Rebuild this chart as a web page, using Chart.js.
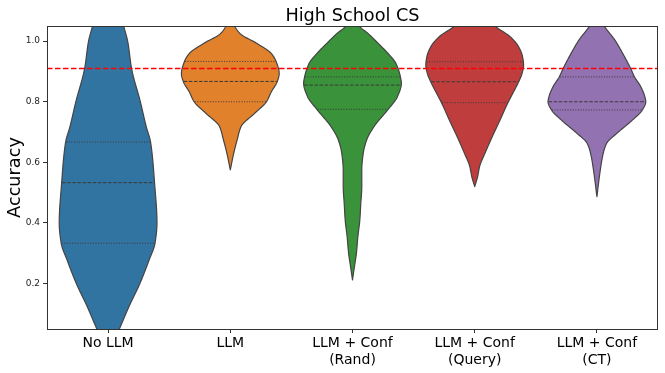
<!DOCTYPE html>
<html>
<head>
<meta charset="utf-8">
<script src="https://cdn.jsdelivr.net/npm/chart.js@4.4.1/dist/chart.umd.min.js"></script>
<style>
  html, body { margin: 0; padding: 0; background: #fff; }
  #chart { display: block; }
</style>
</head>
<body>
<canvas id="chart" width="665" height="373"></canvas>
<script>
// categories and tick labels
const categories = [['No LLM'], ['LLM'], ['LLM + Conf', '(Rand)'], ['LLM + Conf', '(Query)'], ['LLM + Conf', '(CT)']];
const yTicks = [0.2, 0.4, 0.6, 0.8, 1.0];
const threshold = 0.91;

// violin outlines: accuracy values (top to bottom) and relative half-widths
const noLlmY = [1.15, 1.10, 1.05, 1.0, 0.91, 0.80, 0.718, 0.666, 0.533, 0.40, 0.333, 0.278, 0.20, 0.125, 0.05, -0.03];
const noLlmW = [0.20, 0.26, 0.32, 0.40, 0.48, 0.66, 0.78, 0.87, 0.95, 1.0, 0.96, 0.84, 0.65, 0.43, 0.23, 0.0];
const llmY = [1.08, 1.05, 1.025, 0.992, 0.959, 0.932, 0.893, 0.866, 0.833, 0.80, 0.762, 0.718, 0.674, 0.63, 0.575];
const llmW = [0.03, 0.09, 0.20, 0.55, 0.84, 0.94, 1.0, 0.96, 0.84, 0.74, 0.50, 0.22, 0.14, 0.07, 0.0];
const randY = [1.10, 1.05, 1.025, 0.992, 0.959, 0.926, 0.882, 0.861, 0.817, 0.773, 0.718, 0.674, 0.63, 0.575, 0.52, 0.465, 0.41, 0.355, 0.30, 0.256, 0.212];
const randW = [0.04, 0.14, 0.32, 0.53, 0.73, 0.89, 0.98, 1.0, 0.92, 0.72, 0.44, 0.29, 0.22, 0.19, 0.19, 0.17, 0.15, 0.11, 0.08, 0.04, 0.0];
const queryY = [1.12, 1.08, 1.05, 1.014, 0.981, 0.948, 0.921, 0.894, 0.866, 0.828, 0.797, 0.74, 0.685, 0.63, 0.586, 0.553, 0.52];
const queryW = [0.05, 0.22, 0.41, 0.73, 0.90, 0.98, 1.0, 0.97, 0.90, 0.78, 0.68, 0.52, 0.36, 0.21, 0.10, 0.06, 0.0];
const ctY = [1.09, 1.05, 1.003, 0.959, 0.91, 0.882, 0.849, 0.817, 0.80, 0.773, 0.74, 0.696, 0.663, 0.63, 0.575, 0.487];
const ctW = [0.02, 0.15, 0.37, 0.53, 0.69, 0.77, 0.90, 0.98, 1.0, 0.93, 0.73, 0.41, 0.20, 0.13, 0.07, 0.0];

// quartiles (lower, median, upper)
const noLlmQ = [0.333, 0.533, 0.667];
const llmQ = [0.80, 0.867, 0.933];
const randQ = [0.775, 0.855, 0.882];
const queryQ = [0.797, 0.866, 0.932];
const ctQ = [0.773, 0.80, 0.882];

const colors = ['#3274a1', '#e1812c', '#3a923a', '#c03d3e', '#9372b2'];

const violins = [
    { y: noLlmY, w: noLlmW, q: noLlmQ },
    { y: llmY, w: llmW, q: llmQ },
    { y: randY, w: randW, q: randQ },
    { y: queryY, w: queryW, q: queryQ },
    { y: ctY, w: ctW, q: ctQ }
];

const FONT = "'DejaVu Sans', sans-serif";

// monotone cubic (Fritsch-Carlson) so the outline doesn't overshoot
function makeInterp(yDesc, wDesc) {
    const xs = yDesc.slice().reverse();
    const ys = wDesc.slice().reverse();
    const n = xs.length;
    const d = [], h = [];
    for (let i = 0; i < n - 1; i++) {
        h.push(xs[i + 1] - xs[i]);
        d.push((ys[i + 1] - ys[i]) / h[i]);
    }
    const m = new Array(n);
    m[0] = d[0];
    m[n - 1] = d[n - 2];
    for (let i = 1; i < n - 1; i++) {
        if (d[i - 1] * d[i] <= 0) m[i] = 0;
        else m[i] = 3 * (h[i - 1] + h[i]) / ((2 * h[i] + h[i - 1]) / d[i - 1] + (h[i] + 2 * h[i - 1]) / d[i]);
    }
    return function (v) {
        if (v <= xs[0]) return ys[0];
        if (v >= xs[n - 1]) return ys[n - 1];
        let i = 0;
        while (i < n - 2 && v > xs[i + 1]) i++;
        const t = (v - xs[i]) / h[i];
        const t2 = t * t, t3 = t2 * t;
        return (2 * t3 - 3 * t2 + 1) * ys[i] + (t3 - 2 * t2 + t) * h[i] * m[i] +
            (-2 * t3 + 3 * t2) * ys[i + 1] + (t3 - t2) * h[i] * m[i + 1];
    };
}

const violinPlugin = {
    id: 'violins',
    afterDatasetsDraw(chart) {
        const { ctx, chartArea: area, scales: { x, y } } = chart;
        const step = x.getPixelForValue(1) - x.getPixelForValue(0);
        const half = step * 0.4;
        ctx.save();
        ctx.beginPath();
        ctx.rect(area.left, area.top, area.right - area.left, area.bottom - area.top);
        ctx.clip();
        violins.forEach((v, i) => {
            const cx = x.getPixelForValue(i);
            const f = makeInterp(v.y, v.w);
            const top = v.y[0], bottom = v.y[v.y.length - 1];
            const samples = [];
            for (let val = top; val > bottom; val -= 0.002) samples.push(val);
            samples.push(bottom);
            ctx.beginPath();
            samples.forEach((val, k) => {
                const px = cx + Math.max(0, f(val)) * half, py = y.getPixelForValue(val);
                if (k === 0) ctx.moveTo(px, py); else ctx.lineTo(px, py);
            });
            for (let k = samples.length - 1; k >= 0; k--) {
                ctx.lineTo(cx - Math.max(0, f(samples[k])) * half, y.getPixelForValue(samples[k]));
            }
            ctx.closePath();
            ctx.fillStyle = colors[i];
            ctx.fill();
            ctx.lineWidth = 1.2;
            ctx.strokeStyle = '#444444';
            ctx.lineJoin = 'round';
            ctx.stroke();

            v.q.forEach((qv, k) => {
                const hw = f(qv) * half - 0.5;
                const py = y.getPixelForValue(qv);
                ctx.beginPath();
                ctx.setLineDash(k === 1 ? [3.5, 1.6] : [1, 1.6]);
                ctx.lineWidth = 1;
                ctx.strokeStyle = '#3a3a3a';
                ctx.moveTo(cx - hw, py);
                ctx.lineTo(cx + hw, py);
                ctx.stroke();
            });
            ctx.setLineDash([]);
        });

        // red reference line
        const ty = y.getPixelForValue(threshold);
        ctx.beginPath();
        ctx.setLineDash([5.5, 2.5]);
        ctx.lineWidth = 1.5;
        ctx.strokeStyle = '#ff0000';
        ctx.moveTo(area.left, ty);
        ctx.lineTo(area.right, ty);
        ctx.stroke();
        ctx.restore();
    },
    afterDraw(chart) {
        const { ctx, chartArea: area } = chart;
        ctx.save();
        ctx.lineWidth = 1;
        ctx.strokeStyle = '#333333';
        ctx.strokeRect(area.left + 0.5, area.top + 0.5, area.right - area.left - 1, area.bottom - area.top);

        ctx.fillStyle = '#000';
        ctx.font = '17.7px ' + FONT;
        ctx.textAlign = 'center';
        ctx.textBaseline = 'alphabetic';
        ctx.fillText('High School CS', (area.left + area.right) / 2, 20.5);

        ctx.translate(20, (area.top + area.bottom) / 2);
        ctx.rotate(-Math.PI / 2);
        ctx.fillText('Accuracy', 0, 0);
        ctx.restore();
    }
};

new Chart(document.getElementById('chart'), {
    type: 'bar',
    data: {
        labels: categories,
        datasets: [{ data: categories.map(() => null), backgroundColor: 'rgba(0,0,0,0)' }]
    },
    options: {
        responsive: false,
        devicePixelRatio: 1,
        animation: false,
        layout: { padding: { top: 26, right: 7, left: 0, bottom: 0 } },
        plugins: {
            legend: { display: false },
            title: { display: false },
            tooltip: { enabled: false }
        },
        scales: {
            x: {
                grid: { display: true, offset: false, drawOnChartArea: false, drawTicks: true, tickLength: 4, color: '#333' },
                border: { display: false },
                ticks: {
                    color: '#000',
                    font: { size: 14, family: FONT, lineHeight: 1.2 },
                    maxRotation: 0,
                    autoSkip: false,
                    padding: 2
                },
                afterFit(scale) { scale.height = 44; }
            },
            y: {
                min: 0.05,
                max: 1.05,
                grid: { display: true, drawOnChartArea: false, drawTicks: true, tickLength: 4, color: '#333' },
                border: { display: false },
                afterBuildTicks(scale) { scale.ticks = yTicks.map(v => ({ value: v })); },
                ticks: {
                    color: '#222',
                    font: { size: 9, family: FONT },
                    padding: 3,
                    callback: v => Number(v).toFixed(1)
                },
                afterFit(scale) { scale.width = 47; }
            }
        }
    },
    plugins: [violinPlugin]
});
</script>
</body>
</html>
